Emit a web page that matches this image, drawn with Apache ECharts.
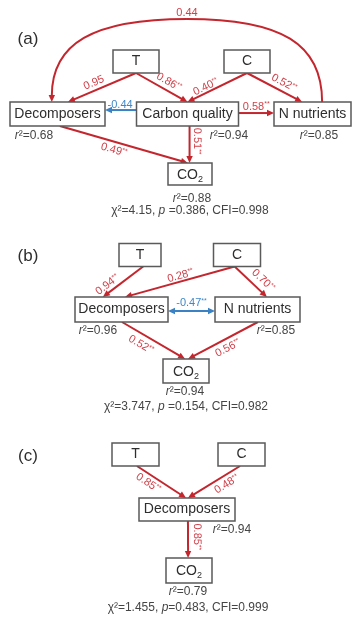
<!DOCTYPE html>
<html>
<head>
<meta charset="utf-8">
<title>Path models</title>
<script src="https://cdn.jsdelivr.net/npm/echarts@6/dist/echarts.min.js"></script>
<style>
  html, body { margin: 0; padding: 0; background: #fff; }
  #chart { width: 352px; height: 618px; }
</style>
</head>
<body>
<div id="chart"></div>
<script>
// ---------------- model results ----------------
const panelNames = ['(a)', '(b)', '(c)'];

// [source, target, standardised path coefficient, significance]
const pathsA = [
  ['T', 'Decomposers', 0.95, ''],
  ['T', 'Carbon quality', 0.86, '**'],
  ['C', 'Carbon quality', 0.40, '**'],
  ['C', 'N nutrients', 0.52, '**'],
  ['Carbon quality', 'Decomposers', -0.44, ''],
  ['Carbon quality', 'N nutrients', 0.58, '**'],
  ['Decomposers', 'CO2', 0.49, '**'],
  ['Carbon quality', 'CO2', 0.51, '**'],
  ['N nutrients', 'Decomposers', 0.44, '']
];
const pathsB = [
  ['T', 'Decomposers', 0.94, '**'],
  ['C', 'Decomposers', 0.28, '**'],
  ['C', 'N nutrients', 0.70, '**'],
  ['Decomposers', 'N nutrients', -0.47, '**'],
  ['Decomposers', 'CO2', 0.52, '**'],
  ['N nutrients', 'CO2', 0.56, '**']
];
const pathsC = [
  ['T', 'Decomposers', 0.85, '**'],
  ['C', 'Decomposers', 0.48, '**'],
  ['Decomposers', 'CO2', 0.85, '**']
];

// explained variance of endogenous variables
const r2A = [['Decomposers', 0.68], ['Carbon quality', 0.94], ['N nutrients', 0.85], ['CO2', 0.88]];
const r2B = [['Decomposers', 0.96], ['N nutrients', 0.85], ['CO2', 0.94]];
const r2C = [['Decomposers', 0.94], ['CO2', 0.79]];

// model fit
const chiSq = ['4.15', '3.747', '1.455'];
const pValue = ['0.386', '0.154', '0.483'];
const cfi = ['0.998', '0.982', '0.999'];

// ---------------- layout (axis units = px) ----------------
// box: centre x, centre y, width, height
const boxesA = {
  'T': [136, 61.5, 46, 23],
  'C': [247, 61.5, 46, 23],
  'Decomposers': [57.5, 114, 95, 24],
  'Carbon quality': [187.5, 114, 102, 24],
  'N nutrients': [312.5, 114, 77, 24],
  'CO2': [190, 174, 44, 22]
};
const boxesB = {
  'T': [140, 255, 42, 23],
  'C': [237, 255, 47, 23],
  'Decomposers': [121.5, 309.5, 93, 25],
  'N nutrients': [257.5, 309.5, 85, 25],
  'CO2': [186, 371, 46, 24]
};
const boxesC = {
  'T': [135.5, 454.5, 47, 23],
  'C': [241.5, 454.5, 47, 23],
  'Decomposers': [187, 509.5, 96, 23],
  'CO2': [189, 570.5, 46, 25]
};

// arrow geometry: [source side, offset on side, target side, offset on side,
//                  label position along arrow, label distance from arrow, heads, arc top]
const geomA = [
  ['bottom', 0, 'top', 0.22, 0.575, 7.5, 'end'],
  ['bottom', 0, 'top', 0, 0.56, 8.2, 'end'],
  ['bottom', 0, 'top', 0, 0.65, 5.5, 'end'],
  ['bottom', 0, 'top', -0.27, 0.60, 8.4, 'end'],
  ['left', -0.33, 'right', -0.33, 0.52, 5, 'end'],
  ['right', -0.08, 'left', -0.08, 0.5, 6.5, 'end'],
  ['bottom', 0.05, 'top', -0.1, 0.44, -8, 'end'],
  ['bottom', 0.04, 'top', -0.02, 0.41, 7.5, 'end'],
  ['top', 0.25, 'top', -0.12, 0.5, 6, 'end', 19]
];
const geomB = [
  ['bottom', 0.15, 'top', -0.40, 0.78, 7, 'end'],
  ['bottom', -0.1, 'top', 0.075, 0.48, 5.6, 'end'],
  ['bottom', -0.1, 'top', 0.22, 0.68, 9.5, 'end'],
  ['right', 0.12, 'left', 0.12, 0.5, 8, 'both'],
  ['bottom', 0.01, 'top', -0.04, 0.38, -10, 'end'],
  ['bottom', 0.01, 'top', 0.09, 0.49, -9, 'end']
];
const geomC = [
  ['bottom', 0.06, 'top', -0.02, 0.32, -8.2, 'end'],
  ['bottom', -0.06, 'top', 0.02, 0.34, -8.5, 'end'],
  ['bottom', 0.02, 'top', -0.04, 0.43, 9, 'end']
];

const r2PosA = [[34, 135.5], [229, 135.5], [319, 135.5], [192, 199]];
const r2PosB = [[98, 331], [276, 331], [185, 392]];
const r2PosC = [[232, 530], [188, 592]];
const fitPos = [[190, 210.5], [186, 407], [188, 607.5]];
const fitPSep = [' =', ' =', '='];
const panelLabelPos = [[28, 39.5], [28, 256], [28, 456]];

// ---------------- styles ----------------
const FONT = '"Liberation Sans", Arial, Helvetica, sans-serif';
const RED = '#c4262e';
const RED_TEXT = '#d0414a';
const BLUE = '#3a82c4';
const BLUE_TEXT = '#3f88c8';
const INK = '#2e2e2e';
const GREY_TEXT = '#454545';
const BORDER = '#5a5a5a';

// ---------------- assemble ----------------
const panels = [
  { boxes: boxesA, paths: pathsA, geom: geomA, r2: r2A, r2Pos: r2PosA },
  { boxes: boxesB, paths: pathsB, geom: geomB, r2: r2B, r2Pos: r2PosB },
  { boxes: boxesC, paths: pathsC, geom: geomC, r2: r2C, r2Pos: r2PosC }
];

const nodeItems = [];
const edgeItems = [];
const textItems = [];

panels.forEach((P, pi) => {
  Object.keys(P.boxes).forEach(name => nodeItems.push({ name, box: P.boxes[name] }));
  P.paths.forEach((path, k) => edgeItems.push({ path, geom: P.geom[k], boxes: P.boxes }));
  P.r2.forEach((r, k) => textItems.push({
    pos: P.r2Pos[k], text: '{i|r}\u00B2=' + r[1].toFixed(2), size: 12, color: GREY_TEXT
  }));
  textItems.push({
    pos: fitPos[pi],
    text: '\u03C7\u00B2=' + chiSq[pi] + ', {i|p}' + fitPSep[pi] + pValue[pi] + ', CFI=' + cfi[pi],
    size: 12, color: GREY_TEXT
  });
  textItems.push({ pos: panelLabelPos[pi], text: panelNames[pi], size: 17, color: INK });
});

function anchor(box, side, f) {
  const [cx, cy, w, h] = box;
  if (side === 'top') return [cx + f * w / 2, cy - h / 2];
  if (side === 'bottom') return [cx + f * w / 2, cy + h / 2];
  if (side === 'left') return [cx - w / 2, cy + f * h / 2];
  return [cx + w / 2, cy + f * h / 2];
}

const HEAD_L = 7, HEAD_W = 3.2;
function arrowHead(tip, ux, uy, color) {
  const bx = tip[0] - ux * HEAD_L, by = tip[1] - uy * HEAD_L;
  return {
    type: 'polygon',
    shape: { points: [[tip[0], tip[1]], [bx - uy * HEAD_W, by + ux * HEAD_W], [bx + uy * HEAD_W, by - ux * HEAD_W]] },
    style: { fill: color }
  };
}

function coefText(v, stars) {
  return v.toFixed(2) + (stars ? '{s|' + stars + '}' : '');
}

function renderEdge(params, api) {
  const it = edgeItems[params.dataIndex];
  const [src, dst, coef, stars] = it.path;
  const g = it.geom;
  const unit = api.size([1, 1])[0];
  const p0 = api.coord(anchor(it.boxes[src], g[0], g[1]));
  const p1 = api.coord(anchor(it.boxes[dst], g[2], g[3]));
  const color = coef < 0 ? BLUE : RED;
  const tColor = coef < 0 ? BLUE_TEXT : RED_TEXT;
  const children = [];
  let lp, rot = 0;

  if (g[7] != null) {
    // curved covariance-style arrow over the top of the panel
    const top = api.coord([0, g[7]])[1];
    const base = p0[1];
    const mx = (p0[0] + p1[0]) / 2;
    const hw = Math.abs(p0[0] - p1[0]) / 2;
    const h = base - top;
    const dir = p0[0] > p1[0] ? 1 : -1;
    const k = 0.7;
    children.push({
      type: 'bezierCurve',
      shape: { x1: p0[0], y1: p0[1], cpx1: p0[0], cpy1: base - k * h, cpx2: mx + dir * k * hw, cpy2: top, x2: mx, y2: top },
      style: { stroke: color, lineWidth: 2, fill: 'none' }
    });
    children.push({
      type: 'bezierCurve',
      shape: { x1: mx, y1: top, cpx1: mx - dir * k * hw, cpy1: top, cpx2: p1[0], cpy2: base - k * h, x2: p1[0], y2: p1[1] - HEAD_L + 1 },
      style: { stroke: color, lineWidth: 2, fill: 'none' }
    });
    children.push(arrowHead(p1, 0, 1, color));
    lp = [mx + (p1[0] - p0[0]) * (g[4] - 0.5), top - g[5] * unit];
  } else {
    const dx = p1[0] - p0[0], dy = p1[1] - p0[1];
    const len = Math.hypot(dx, dy);
    const ux = dx / len, uy = dy / len;
    const both = g[6] === 'both';
    const a0 = both ? [p0[0] + ux * (HEAD_L - 1), p0[1] + uy * (HEAD_L - 1)] : p0;
    const a1 = [p1[0] - ux * (HEAD_L - 1), p1[1] - uy * (HEAD_L - 1)];
    children.push({
      type: 'line',
      shape: { x1: a0[0], y1: a0[1], x2: a1[0], y2: a1[1] },
      style: { stroke: color, lineWidth: 2 }
    });
    children.push(arrowHead(p1, ux, uy, color));
    if (both) children.push(arrowHead(p0, -ux, -uy, color));
    let nx = uy, ny = -ux;
    if (ny > 1e-6 || (Math.abs(ny) <= 1e-6 && nx < 0)) { nx = -nx; ny = -ny; }
    const off = g[5] * unit;
    lp = [p0[0] + dx * g[4] + nx * off, p0[1] + dy * g[4] + ny * off];
    let a = Math.atan2(dy, dx);
    if (a > Math.PI / 2 + 1e-6) a -= Math.PI;
    else if (a < -Math.PI / 2 - 1e-6) a += Math.PI;
    rot = -a;
  }

  children.push({
    type: 'text',
    x: lp[0], y: lp[1], rotation: rot,
    style: {
      text: coefText(coef, stars),
      fill: tColor, fontSize: 11, fontFamily: FONT,
      align: 'center', verticalAlign: 'middle',
      rich: { s: { fontSize: 7, fill: tColor, fontFamily: FONT, verticalAlign: 'top', lineHeight: 7 } }
    }
  });
  return { type: 'group', children };
}

function nodeLabel(name) {
  return name === 'CO2' ? 'CO{sub|2}' : name;
}

function renderNode(params, api) {
  const it = nodeItems[params.dataIndex];
  const c = api.coord([api.value(0), api.value(1)]);
  const s = api.size([it.box[2], it.box[3]]);
  return {
    type: 'group',
    children: [
      {
        type: 'rect',
        shape: { x: c[0] - s[0] / 2, y: c[1] - s[1] / 2, width: s[0], height: s[1] },
        style: { fill: '#fff', stroke: BORDER, lineWidth: 1.5 }
      },
      {
        type: 'text',
        x: c[0], y: c[1] + (it.name === 'CO2' ? 1 : 0),
        style: {
          text: nodeLabel(it.name),
          fill: INK, fontSize: 14, fontFamily: FONT, lineHeight: 18,
          align: 'center', verticalAlign: 'middle',
          rich: { sub: { fontSize: 9, lineHeight: 9, fill: INK, fontFamily: FONT, verticalAlign: 'bottom' } }
        }
      }
    ]
  };
}

function renderText(params, api) {
  const it = textItems[params.dataIndex];
  const c = api.coord([api.value(0), api.value(1)]);
  return {
    type: 'text',
    x: c[0], y: c[1],
    style: {
      text: it.text, fill: it.color, fontSize: it.size, fontFamily: FONT,
      align: 'center', verticalAlign: 'middle',
      rich: { i: { fontStyle: 'italic', fontSize: it.size, fill: it.color, fontFamily: FONT } }
    }
  };
}

const chart = echarts.init(document.getElementById('chart'), null, { renderer: 'canvas' });
chart.setOption({
  animation: false,
  backgroundColor: '#fff',
  grid: { left: 0, right: 0, top: 0, bottom: 0 },
  xAxis: { type: 'value', min: 0, max: 352, show: false },
  yAxis: { type: 'value', min: 0, max: 618, inverse: true, show: false },
  series: [
    {
      type: 'custom', name: 'paths', clip: false, silent: true,
      encode: { x: 0, y: 1 },
      data: edgeItems.map(e => anchor(e.boxes[e.path[0]], e.geom[0], e.geom[1])),
      renderItem: renderEdge
    },
    {
      type: 'custom', name: 'variables', clip: false, silent: true,
      encode: { x: 0, y: 1 },
      data: nodeItems.map(n => [n.box[0], n.box[1]]),
      renderItem: renderNode
    },
    {
      type: 'custom', name: 'annotations', clip: false, silent: true,
      encode: { x: 0, y: 1 },
      data: textItems.map(t => t.pos),
      renderItem: renderText
    }
  ]
});
</script>
</body>
</html>
